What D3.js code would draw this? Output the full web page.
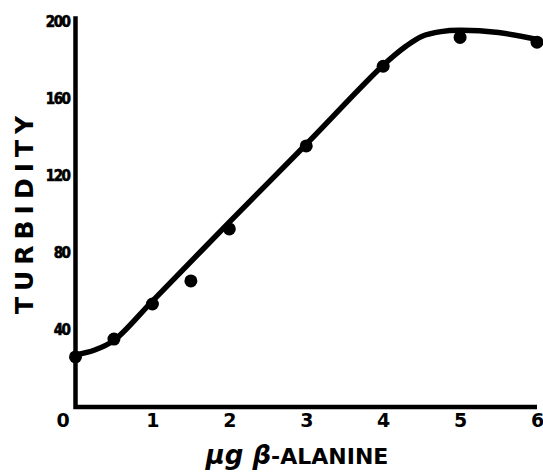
<!DOCTYPE html>
<html><head><meta charset="utf-8">
<script src="https://cdn.jsdelivr.net/npm/d3@7"></script>
<style>body{margin:0;background:#fff}svg{display:block}</style>
</head><body>
<script>
const xTicks = [0, 1, 2, 3, 4, 5, 6];
const yTicks = [40, 80, 120, 160, 200];
const pointX = [0, 0.5, 1, 1.5, 2, 3, 4, 5, 6];
const pointY = [26, 35.3, 53.5, 65.5, 92.5, 135.6, 177, 192, 189.5];
const curveX = [0, 0.25, 0.5, 1, 2, 3, 4, 4.3, 4.5, 4.75, 5, 5.5, 6];
const curveY = [27, 29.6, 34.6, 55, 96, 136.5, 177.5, 187.5, 192.5, 195, 195.7, 194.5, 191];

const W = 543, H = 474;
const svg = d3.select("body").append("svg").attr("width", W).attr("height", H);
const x = d3.scaleLinear().domain([0, 6]).range([75.5, 537]);
const y = d3.scaleLinear().domain([0, 200]).range([407, 22]);

// axes
const gx = svg.append("g").attr("transform", `translate(0,${y(0)})`)
  .call(d3.axisBottom(x).tickValues(xTicks).tickSize(0).tickPadding(7).tickFormat(d3.format("d")));
gx.select(".domain").remove();
gx.selectAll("text").attr("font-family", "DejaVu Sans").attr("font-weight", "bold")
  .attr("font-size", 19).attr("fill", "#000");
gx.selectAll(".tick").filter(d => d === 0).select("text").attr("dx", -13);

const gy = svg.append("g").attr("transform", `translate(${x(0)},0)`)
  .call(d3.axisLeft(y).tickValues(yTicks).tickSize(0).tickPadding(6).tickFormat(d3.format("d")));
gy.select(".domain").remove();
gy.selectAll("text").attr("font-family", "DejaVu Sans Condensed, DejaVu Sans").attr("font-weight", "bold")
  .attr("font-size", 15).attr("fill", "#000").attr("letter-spacing", -1.5)
  .attr("stroke", "#000").attr("stroke-width", 0.6);

svg.append("path")
  .attr("d", `M${x(0)},${y(203)}V${y(0)}H${x(6)}`)
  .attr("fill", "none").attr("stroke", "#000").attr("stroke-width", 4.5)
  .attr("stroke-linejoin", "miter");

// curve
const pts = curveX.map((v, i) => [v, curveY[i]]);
svg.append("path").datum(pts)
  .attr("d", d3.line().x(d => x(d[0])).y(d => y(d[1])).curve(d3.curveCatmullRom.alpha(0.5)))
  .attr("fill", "none").attr("stroke", "#000").attr("stroke-width", 5.5).attr("stroke-linecap", "round");

// points
svg.selectAll("circle.pt").data(pointX.map((v, i) => [v, pointY[i]])).enter().append("circle")
  .attr("class", "pt").attr("cx", d => x(d[0])).attr("cy", d => y(d[1])).attr("r", 6.5).attr("fill", "#000");

// titles
svg.append("text").attr("transform", `translate(33,212) rotate(-90)`)
  .attr("text-anchor", "middle").attr("font-family", "DejaVu Sans").attr("font-weight", "bold")
  .attr("font-size", 25).attr("letter-spacing", 6).text("TURBIDITY");

const xt = svg.append("text").attr("x", 297).attr("y", 464).attr("text-anchor", "middle")
  .attr("font-family", "DejaVu Sans").attr("font-weight", "bold").attr("font-size", 22);
xt.append("tspan").attr("font-style", "italic").attr("font-size", 26).text("μg β");
xt.append("tspan").text("-ALANINE");
</script>
</body></html>
